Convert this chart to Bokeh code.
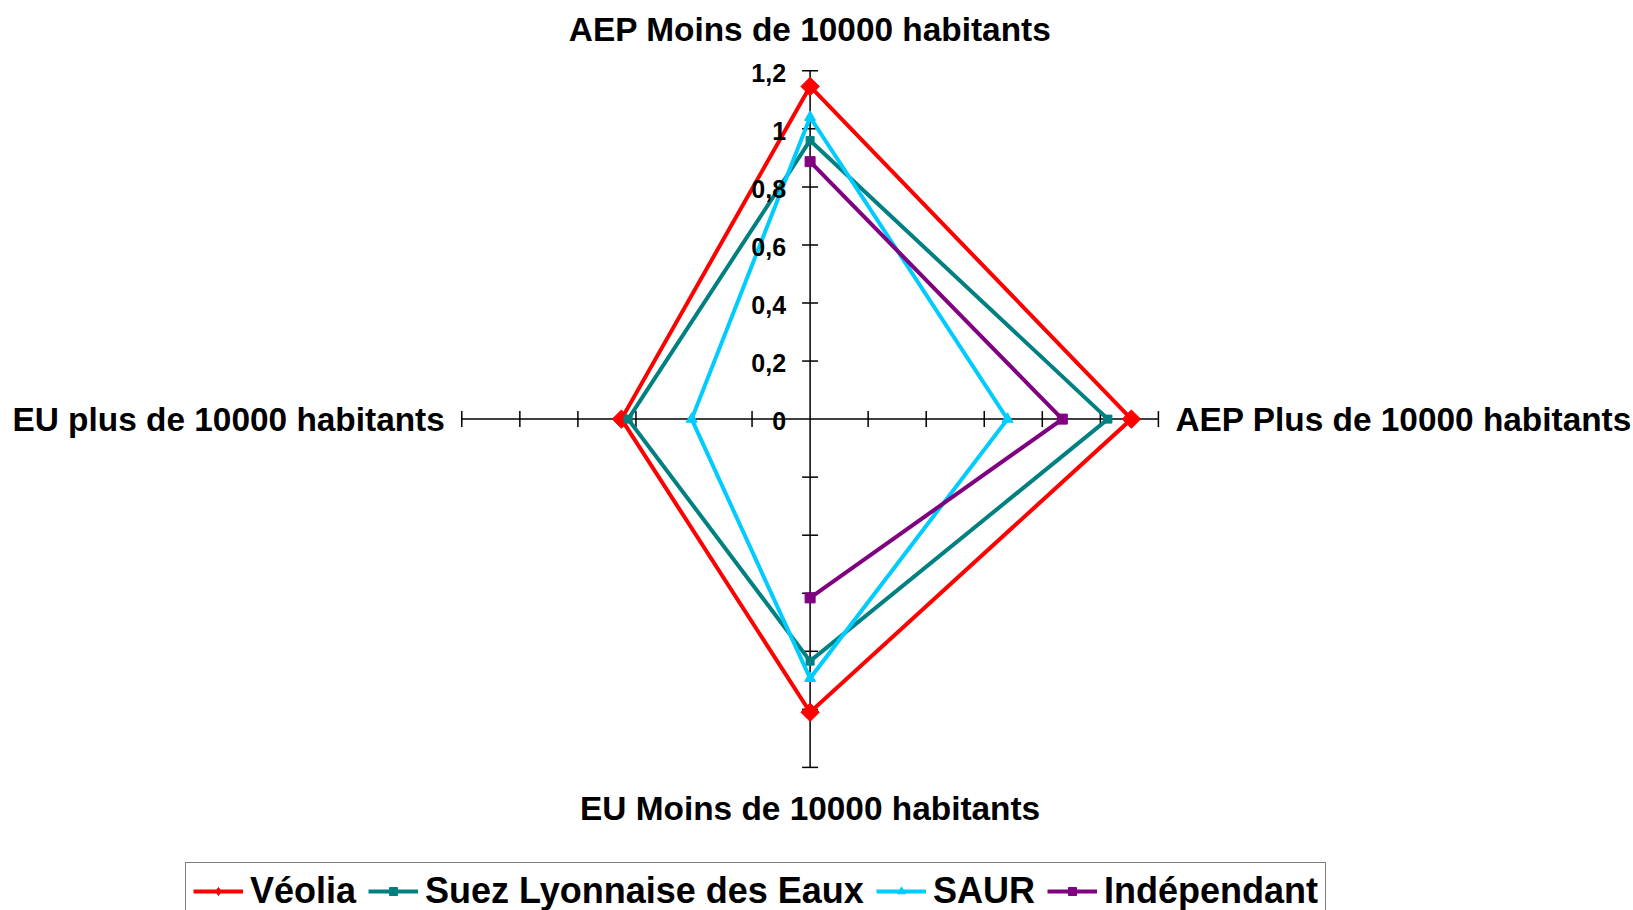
import numpy as np
from bokeh.plotting import figure
from bokeh.models import ColumnDataSource, Legend, LegendItem, Range1d
from bokeh.core.properties import value
from bokeh.embed import file_html
from bokeh.resources import INLINE

# ---- data ----
categories = [
    "AEP Moins de 10000 habitants",
    "AEP Plus de 10000 habitants",
    "EU Moins de 10000 habitants",
    "EU plus de 10000 habitants",
]
series_names = ["Véolia", "Suez Lyonnaise des Eaux", "SAUR", "Indépendant"]
veolia = [1.146, 1.107, 1.01, 0.65]
suez = [0.96, 1.026, 0.834, 0.627]
saur = [1.04, 0.68, 0.893, 0.408]
independant = [0.887, 0.869, 0.616, None]
tick_values = [0.0, 0.2, 0.4, 0.6, 0.8, 1.0, 1.2]
tick_labels = ["0", "0,2", "0,4", "0,6", "0,8", "1", "1,2"]

# ---- styles ----
colors = ["#FF0000", "#008080", "#00CCFF", "#800080"]
markers = [("square", 13, np.pi / 4), ("square", 8, 0.0), ("triangle", 11, 0.0), ("square", 10, 0.0)]
legend_markers = ["diamond", "square", "triangle", "square"]
FONT = value("Liberation Sans")

W, H = 1633, 910
CX, CY = 809.6, 418.6      # screen position of the radar centre in the canvas
PPU = 290.25               # pixels per data unit

p = figure(width=W, height=H, output_backend="svg", toolbar_location=None,
           x_axis_location=None, y_axis_location=None, min_border=0,
           x_range=Range1d(-CX / PPU, (W - CX) / PPU),
           y_range=Range1d(-(H - CY) / PPU, CY / PPU))
p.grid.visible = False
p.outline_line_color = None
p.background_fill_color = "white"

# angles: first category at top, clockwise
n = len(categories)
angles = [np.pi / 2 - 2 * np.pi * i / n for i in range(n)]
cosv = np.array([round(np.cos(a), 12) for a in angles])
sinv = np.array([round(np.sin(a), 12) for a in angles])

rmax = tick_values[-1]
# axes lines
for c, s in zip(cosv[:2], sinv[:2]):
    p.line([-rmax * c, rmax * c], [-rmax * s, rmax * s], line_color="black", line_width=1.5)

# tick marks along all four spokes
tv = np.array(tick_values[1:])
for c, s in zip(cosv, sinv):
    horiz_spoke = abs(c) > 0.5
    p.scatter(tv * c, tv * s, marker="dash", size=16, line_color="black", line_width=1.5,
              angle=np.pi / 2 if horiz_spoke else 0.0)

# series
legend_items = []
for name, vals, col, (mk, sz, ang), lmk in zip(series_names, [veolia, suez, saur, independant],
                                               colors, markers, legend_markers):
    r = np.array([np.nan if v is None else v for v in vals], dtype=float)
    xs = r * cosv
    ys = r * sinv
    src = ColumnDataSource(dict(x=np.append(xs, xs[0]), y=np.append(ys, ys[0])))
    lr = p.line("x", "y", source=src, line_color=col, line_width=4, line_join="miter")
    msrc = ColumnDataSource(dict(x=xs, y=ys))
    mr = p.scatter("x", "y", source=msrc, marker=mk, size=sz, angle=ang,
                   fill_color=col, line_color=col)
    if lmk != mk:
        # legend-only marker (no visible data)
        mr = p.scatter(x=[np.nan], y=[np.nan], marker=lmk, size=sz,
                       fill_color=col, line_color=col)
    legend_items.append(LegendItem(label=name, renderers=[lr, mr]))

# tick labels on top spoke
p.text(x=[0.0] * len(tick_values), y=tick_values, text=tick_labels, text_font=FONT,
       text_font_style="bold", text_font_size="25px", text_align="right",
       text_baseline="alphabetic", x_offset=-24, y_offset=2, text_color="black")

# category labels
lab_font = "33.4px"
p.text(x=[rmax * cosv[0]], y=[rmax * sinv[0]], text=[categories[0]], text_font=FONT,
       text_font_style="bold", text_font_size=lab_font, text_align="center",
       text_baseline="alphabetic", y_offset=-41)
p.text(x=[rmax * cosv[1]], y=[rmax * sinv[1]], text=[categories[1]], text_font=FONT,
       text_font_style="bold", text_font_size=lab_font, text_align="left",
       text_baseline="alphabetic", x_offset=17, y_offset=0)
p.text(x=[rmax * cosv[2]], y=[rmax * sinv[2]], text=[categories[2]], text_font=FONT,
       text_font_style="bold", text_font_size=lab_font, text_align="center",
       text_baseline="alphabetic", y_offset=41)
p.text(x=[rmax * cosv[3]], y=[rmax * sinv[3]], text=[categories[3]], text_font=FONT,
       text_font_style="bold", text_font_size=lab_font, text_align="right",
       text_baseline="alphabetic", x_offset=-17, y_offset=0)

legend = Legend(items=legend_items, orientation="horizontal", location=(185, -10),
                label_text_font="Liberation Sans", label_text_font_style="bold",
                label_text_font_size="36px", label_text_color="black",
                glyph_width=50, glyph_height=20,
                label_standoff=7, spacing=12, padding=7, margin=0,
                border_line_color="black", border_line_width=1,
                background_fill_color="white", background_fill_alpha=1.0)
p.add_layout(legend)

open("out.html", "w").write(file_html(p, INLINE))
